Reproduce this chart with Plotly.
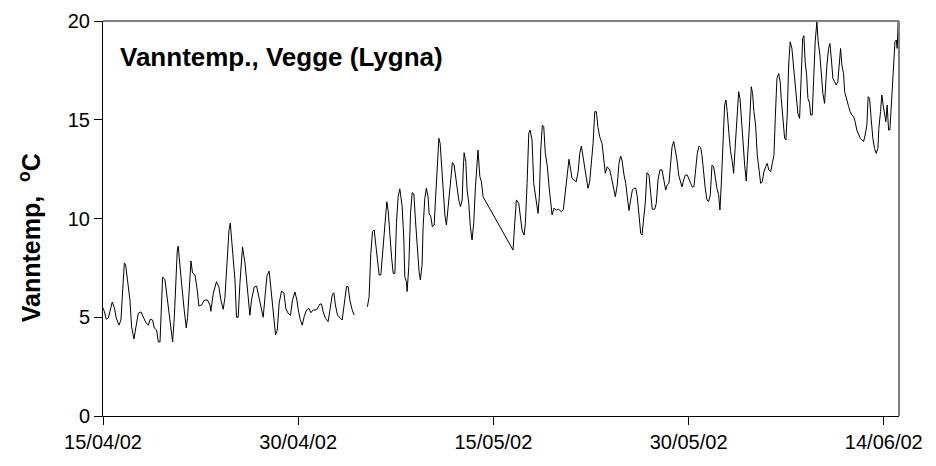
import pandas as pd
import plotly.graph_objects as go

# Time as days since 15/04/2002 00:00, water temperature in deg C
day_offset = [
    0.00, 0.10, 0.25, 0.41, 0.61, 0.71, 0.87, 1.02, 1.23, 1.38, 1.48, 1.64, 1.74, 1.89,
    2.07, 2.20, 2.38, 2.53, 2.71, 2.92, 3.10, 3.27, 3.48, 3.63, 3.81, 3.94, 4.12, 4.25,
    4.38, 4.45, 4.58, 4.76, 4.94, 5.09, 5.22, 5.35, 5.48, 5.61, 5.71, 5.78, 5.86, 6.04,
    6.24, 6.40, 6.50, 6.63, 6.76, 6.88, 7.07, 7.24, 7.37, 7.57, 7.78, 8.03, 8.22, 8.29,
    8.47, 8.72, 8.91, 9.06, 9.24, 9.37, 9.52, 9.68, 9.78, 9.88, 10.01, 10.14, 10.26, 10.39,
    10.52, 10.65, 10.72, 10.91, 11.08, 11.29, 11.41, 11.62, 11.80, 11.98, 12.14, 12.31,
    12.44, 12.60, 12.77, 12.90, 13.08, 13.26, 13.39, 13.54, 13.72, 13.90, 14.06, 14.23,
    14.41, 14.56, 14.75, 14.90, 15.00, 15.15, 15.31, 15.46, 15.64, 15.82, 15.98, 16.15,
    16.41, 16.67, 16.79, 16.92, 17.10, 17.30, 17.46, 17.61, 17.74, 17.86, 18.02, 18.20,
    18.38, 18.53, 18.71, 18.84, 18.97, 19.15, 19.30,
    19.80,
    20.32, 20.45, 20.58, 20.71, 20.84, 20.97, 21.09, 21.22, 21.35, 21.47, 21.61, 21.74,
    21.81, 21.91, 22.04, 22.17, 22.30, 22.43, 22.55, 22.68, 22.81, 22.93, 22.99, 23.12,
    23.19, 23.32, 23.37, 23.50, 23.63, 23.76, 23.89, 24.01, 24.14, 24.29, 24.39, 24.52,
    24.60, 24.73, 24.85, 24.98, 25.06, 25.19, 25.31, 25.45, 25.55, 25.70, 25.81, 25.91,
    26.01, 26.14, 26.27, 26.39, 26.52, 26.65, 26.77, 26.85, 26.98, 27.08, 27.21, 27.34,
    27.47, 27.60, 27.67, 27.75, 27.88, 27.98, 28.11, 28.23, 28.36, 28.49, 28.62, 28.75,
    28.82, 28.96, 29.08, 29.21, 29.75, 30.36, 30.90, 31.51, 31.64, 31.77, 31.95, 32.07,
    32.20, 32.36, 32.46, 32.59, 32.72, 32.82, 32.97, 33.10, 33.23, 33.36, 33.43, 33.53,
    33.64, 33.76, 33.87, 33.99, 34.15, 34.28, 34.41, 34.51, 34.66, 34.84, 35.02, 35.22,
    35.38, 35.48, 35.61, 35.74, 35.81, 35.94, 36.04, 36.20, 36.37, 36.51, 36.64, 36.76,
    36.89, 37.02, 37.14, 37.27, 37.40, 37.53, 37.66, 37.79, 37.91, 38.04, 38.17, 38.35,
    38.50, 38.60, 38.75, 38.94, 39.06, 39.19, 39.37, 39.52, 39.65, 39.78, 39.88, 40.04,
    40.17, 40.29, 40.42, 40.55, 40.68, 40.81, 40.94, 41.06, 41.19, 41.32, 41.42, 41.55,
    41.67, 41.80, 41.96, 42.09, 42.21, 42.40, 42.52, 42.65, 42.80, 42.96, 43.09, 43.24,
    43.36, 43.49, 43.60, 43.73, 43.86, 43.98, 44.11, 44.24, 44.36, 44.49, 44.62, 44.75,
    44.90, 45.03, 45.16, 45.28, 45.41, 45.54, 45.67, 45.80, 45.93, 46.03, 46.16, 46.28,
    46.41, 46.54, 46.67, 46.80, 46.93, 47.05, 47.18, 47.31, 47.41, 47.51, 47.64, 47.77,
    47.87, 47.97, 48.10, 48.23, 48.36, 48.46, 48.59, 48.72, 48.85, 48.95, 49.05, 49.18,
    49.31, 49.43, 49.56, 49.69, 49.82, 49.92, 50.02, 50.15, 50.28, 50.41, 50.54, 50.66,
    50.79, 50.92, 51.04, 51.17, 51.31, 51.43, 51.56, 51.66, 51.79, 51.92, 52.04, 52.12,
    52.25, 52.38, 52.48, 52.58, 52.69, 52.81, 52.94, 53.04, 53.15, 53.27, 53.40, 53.53,
    53.66, 53.77, 53.86, 53.96, 54.07, 54.17, 54.30, 54.38, 54.50, 54.61, 54.73, 54.86,
    54.96, 55.09, 55.19, 55.32, 55.45, 55.53, 55.63, 55.76, 55.86, 55.96, 56.09, 56.22,
    56.34, 56.47, 56.58, 56.68, 56.78, 56.91, 56.99, 57.17, 57.30, 57.42, 57.55, 57.68,
    57.80, 57.93, 58.06, 58.19, 58.32, 58.45, 58.57, 58.70, 58.80, 58.91, 59.03, 59.16,
    59.29, 59.42, 59.55, 59.62, 59.75, 59.85, 59.95, 60.06, 60.16, 60.26, 60.37, 60.47,
    60.57, 60.68, 60.78, 60.86, 60.96, 61.03, 61.11, 61.19, 61.29,
]

temp_c = [
    5.47, 5.3, 4.9, 4.96, 5.5, 5.77, 5.5, 4.96, 4.6, 4.86, 6.0, 7.75, 7.65, 6.9,
    5.87, 4.5, 3.9, 4.5, 5.2, 5.27, 5.0, 4.76, 4.6, 4.9, 4.86, 4.46, 4.35, 3.75,
    3.75, 5.2, 7.04, 6.9, 6.0, 5.0, 4.35, 3.75, 5.0, 7.04, 8.4, 8.6, 7.9, 6.7,
    5.37, 4.46, 5.0, 6.6, 7.85, 7.24, 7.14, 6.38, 5.57, 5.62, 5.87, 5.87, 5.62, 5.3,
    6.2, 6.8, 6.53, 5.87, 5.4, 6.0, 7.55, 9.4, 9.77, 9.06, 7.9, 6.9, 5.0, 5.0,
    6.7, 8.05, 8.56, 7.75, 6.48, 5.1, 5.87, 6.53, 6.58, 5.97, 5.52, 5.0,
    5.97, 7.1, 7.34, 6.38, 5.2, 4.1, 4.35, 5.72, 6.33, 6.23, 5.42, 5.2,
    5.1, 5.87, 6.28, 5.87, 5.4, 4.9, 4.6, 5.03, 5.37, 5.45, 5.23, 5.37,
    5.37, 5.67, 5.67, 5.28, 4.94, 4.78, 5.45, 6.13, 6.24, 5.62, 5.11, 5.0,
    4.86, 5.62, 6.55, 6.55, 5.87, 5.37, 5.11,
    None,
    5.53, 6.04, 8.24, 9.33, 9.42, 8.57, 7.73, 7.14, 7.14, 8.07, 9.58, 10.43,
    10.85, 10.43, 9.08, 8.07, 7.22, 7.22, 9.76, 11.1, 11.5, 11.0, 10.6, 8.9,
    7.05, 6.8, 6.3, 7.56, 10.26, 11.31, 11.24, 9.92, 8.57, 7.3, 6.89, 7.65,
    9.58, 11.02, 11.53, 11.1, 10.26, 10.09, 9.58, 9.67, 10.94, 12.88, 14.06, 13.8,
    12.62, 11.44, 10.18, 9.67, 10.6, 11.78, 12.46, 12.83, 12.71, 12.2, 11.7, 10.94,
    10.6, 10.94, 12.29, 13.33, 12.88, 11.44, 10.77, 9.58, 8.91, 9.76, 11.6, 13.3,
    13.47, 12.12, 11.86, 11.1, 10.47, 9.75, 9.1, 8.4, 9.76, 10.94, 10.77, 10.18,
    9.42, 9.16, 9.76, 11.78, 14.3, 14.48, 13.97, 11.78, 11.27, 10.6, 10.26, 11.1,
    13.47, 14.73, 14.65, 13.3, 12.62, 11.6, 10.77, 10.18, 10.52, 10.43, 10.47, 10.34,
    10.47, 11.1, 11.95, 12.54, 13.0, 12.46, 12.03, 11.95, 11.86, 12.37, 13.3, 13.67,
    13.13, 12.46, 11.86, 11.53, 11.86, 12.79, 13.8, 15.41, 15.41, 14.6, 14.14, 13.8,
    12.96, 12.29, 12.62, 12.46, 12.12, 11.7, 11.1, 11.7, 12.79, 13.16, 12.96, 12.2,
    11.78, 11.1, 10.4, 10.94, 11.44, 11.53, 11.53, 11.1, 10.09, 9.25, 9.16, 10.09,
    10.77, 12.32, 12.2, 11.27, 10.47, 10.47, 10.77, 11.95, 12.46, 12.46, 11.95, 11.44,
    11.7, 11.78, 12.62, 13.63, 13.9, 13.47, 12.96, 12.2, 11.95, 11.6, 11.95, 12.2,
    12.2, 11.95, 11.78, 11.6, 11.6, 12.46, 13.3, 13.67, 13.59, 13.2, 12.2, 11.53,
    10.94, 10.85, 11.2, 12.71, 12.62, 12.03, 11.53, 11.2, 10.43, 11.7, 13.55, 15.75,
    16.0, 15.41, 14.3, 13.38, 12.88, 12.29, 13.72, 15.41, 16.42, 16.08, 15.07, 14.23,
    12.71, 11.9, 13.2, 14.9, 16.67, 16.33, 15.41, 14.73, 13.2, 12.54, 11.78, 11.86,
    12.37, 12.62, 12.79, 12.46, 12.37, 12.79, 13.2, 15.07, 17.09, 17.34, 16.92, 16.08,
    15.07, 14.06, 13.97, 15.24, 17.77, 18.95, 18.61, 17.93, 16.92, 16.25, 15.32, 15.07,
    17.09, 19.12, 19.26, 17.93, 17.26, 16.08, 15.83, 15.24, 15.24, 16.92, 18.95, 19.97,
    18.95, 18.28, 17.26, 16.33, 15.83, 16.76, 17.77, 18.61, 18.86, 18.19, 17.09, 16.92,
    16.76, 16.92, 18.1, 18.61, 17.77, 17.34, 16.42, 15.92, 15.67, 15.41, 15.24, 15.16,
    14.9, 14.48, 14.23, 14.06, 13.97, 13.9, 14.23, 14.73, 16.17, 16.08, 15.07, 14.06,
    13.55, 13.3, 13.55, 14.56, 15.41, 16.25, 15.75, 15.24, 14.9, 15.75, 14.48, 14.48,
    15.58, 16.92, 17.93, 18.95, 19.04, 18.61, 19.97, 18.44, 17.77,
]

start_date = "2002-04-15"
end_offset_days = 61.17
y_ticks = [0, 5, 10, 15, 20]

start = pd.Timestamp(start_date)
times = [start + pd.Timedelta(days=d) for d in day_offset]

FONT = "Liberation Sans, Arial, sans-serif"

fig = go.Figure()
fig.add_trace(go.Scatter(
    x=times, y=temp_c, mode="lines",
    line=dict(color="black", width=1),
    connectgaps=False, showlegend=False, hoverinfo="skip",
))

fig.update_layout(
    width=928, height=458,
    margin=dict(l=95, r=37, t=13, b=50),
    paper_bgcolor="white", plot_bgcolor="white",
    font=dict(family=FONT, size=20, color="black"),
    xaxis=dict(
        type="date", automargin=False,
        range=[start, start + pd.Timedelta(days=end_offset_days)],
        tick0=start, dtick=15 * 86400000, tickformat="%d/%m/%y",
        ticks="outside", ticklen=8, tickcolor="black", tickwidth=1,
        showline=True, linecolor="black", linewidth=1,
        showgrid=False, zeroline=False,
        tickfont=dict(family=FONT, size=20),
    ),
    yaxis=dict(
        automargin=False,
        range=[0, 20], tickvals=y_ticks,
        ticks="outside", ticklen=8, tickcolor="black", tickwidth=1,
        showline=True, linecolor="black", linewidth=1,
        showgrid=False, zeroline=False,
        tickfont=dict(family=FONT, size=20),
    ),
    shapes=[
        dict(type="line", xref="paper", yref="paper", x0=0, x1=1, y0=1, y1=1,
             line=dict(color="#808080", width=2)),
        dict(type="line", xref="paper", yref="paper", x0=1, x1=1, y0=0, y1=1,
             line=dict(color="#808080", width=2)),
    ],
    annotations=[
        dict(text="<b>Vanntemp., Vegge (Lygna)</b>", xref="paper", yref="paper",
             x=0.019, y=0.909, xanchor="left", yanchor="middle", showarrow=False,
             font=dict(family=FONT, size=26, color="black")),
        dict(text="<b>Vanntemp,  <sup>o</sup>C</b>", xref="paper", yref="paper",
             x=0, xshift=-73, y=0.45, xanchor="center", yanchor="middle",
             textangle=-90, showarrow=False,
             font=dict(family=FONT, size=25, color="black")),
    ],
)

fig.write_html("out.html")
